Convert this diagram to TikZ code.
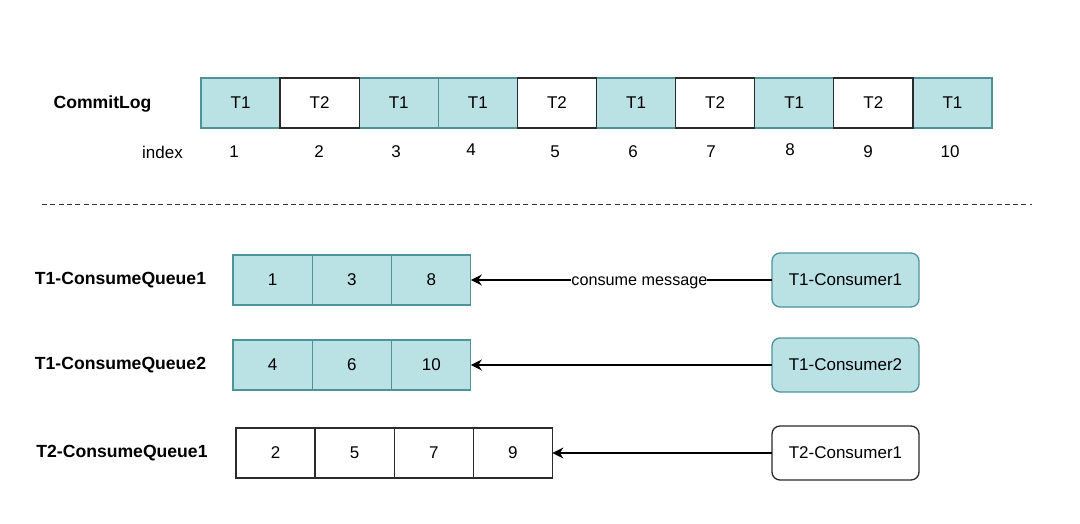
\documentclass[tikz,border=0pt]{standalone}
\usepackage{fontspec}
\setmainfont{Liberation Sans}
\usetikzlibrary{arrows.meta}
\definecolor{tfill}{HTML}{BAE1E3}
\definecolor{tline}{HTML}{4E9398}
\definecolor{dline}{HTML}{2B2B2B}
\begin{document}
\begin{tikzpicture}[x=1pt,y=-1pt,
  every node/.style={font=\fontsize{17}{20}\selectfont, inner sep=0pt, outer sep=0pt},
  tcell/.style={draw=tline, fill=tfill, line width=1.3pt, minimum width=79.1pt, minimum height=50pt},
  wcell/.style={draw=dline, fill=white, line width=1.3pt, minimum width=79.1pt, minimum height=50pt},
  tcons/.style={tcell, rounded corners=8pt, minimum width=147pt, minimum height=54pt},
  wcons/.style={wcell, rounded corners=8pt, minimum width=147pt, minimum height=54pt},
  heading/.style={font=\fontsize{17.6}{20}\selectfont\bfseries},
  arr/.style={line width=1.2pt, -{Stealth[length=11pt,width=11pt,inset=3.5pt]}},
  sep/.style={line width=1pt, dash pattern=on 5pt off 3.3pt, draw=black!80}]
\useasboundingbox (0,0) rectangle (1080,524);

% CommitLog row
\node[heading] (commitlog) at (102.5,104) {CommitLog};
\foreach \i in {1,3,4,6,8,10}
  \node[tcell] (c\i) at ({201+79.1*(\i-0.5)},103) {T1};
\foreach \i in {2,5,7,9}
  \node[wcell] (c\i) at ({201+79.1*(\i-0.5)},103) {T2};

% index row
\node (index) at (162.5,152) {index};
\foreach \n/\x/\y in {1/234/152,2/319/152,3/396/152,4/471/150,5/555/152,6/633/152,7/711/152,8/790/150,9/868/152,10/950/152}
  \node (i\n) at (\x,\y) {\n};

% separator
\coordinate (sl) at (42,205);
\coordinate (sr) at (1032,205);
\draw[sep] (sl) -- (sr);

% queues
\node[heading] (lq1) at (120.5,280) {T1-ConsumeQueue1};
\node[heading] (lq2) at (120.5,365) {T1-ConsumeQueue2};
\node[heading] (lq3) at (122,453) {T2-ConsumeQueue1};

\foreach \v [count=\k] in {1,3,8}
  \node[tcell] (qa\k) at ({233+79.3*(\k-0.5)},280) {\v};
\foreach \v [count=\k] in {4,6,10}
  \node[tcell] (qb\k) at ({233+79.3*(\k-0.5)},365) {\v};
\foreach \v [count=\k] in {2,5,7,9}
  \node[wcell] (qc\k) at ({236+79.1*(\k-0.5)},453) {\v};

% consumers
\node[tcons] (k1) at (845.5,280) {T1-Consumer1};
\node[tcons] (k2) at (845.5,365) {T1-Consumer2};
\node[wcons] (k3) at (845.5,453) {T2-Consumer1};

% arrows
\draw[arr] (k1.west) -- node[pos=0.44, yshift=-3pt, fill=white, inner xsep=0pt, inner ysep=1pt, font=\fontsize{16.2}{19}\selectfont] (lbl) {consume message} (qa3.east);
\draw[arr] (k2.west) -- (qb3.east);
\draw[arr] (k3.west) -- (qc4.east);
\end{tikzpicture}
\end{document}
